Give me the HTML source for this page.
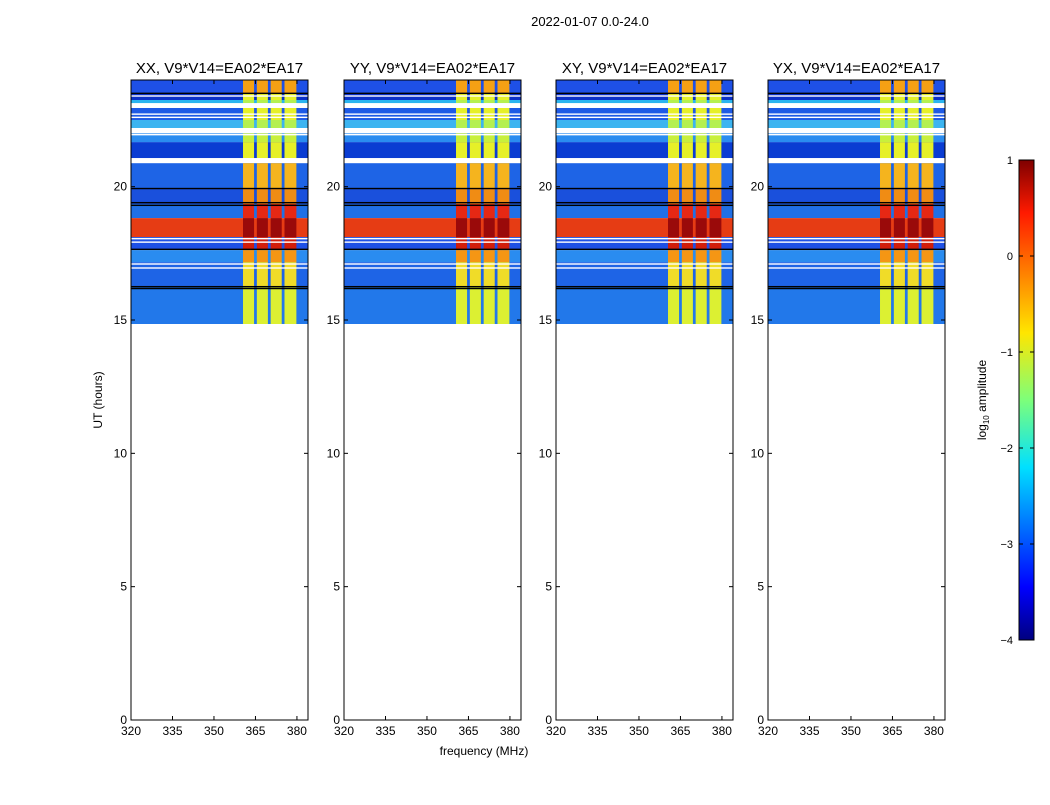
<!DOCTYPE html>
<html><head><meta charset="utf-8"><style>
body{margin:0;background:#fff;}
svg text{font-family:"Liberation Sans",sans-serif;}
</style></head><body>
<svg id="fig" width="1050" height="800" viewBox="0 0 1050 800" xmlns="http://www.w3.org/2000/svg">
<defs>
<linearGradient id="jet" x1="0" y1="1" x2="0" y2="0">
<stop offset="0" stop-color="#00007f"/><stop offset="0.11" stop-color="#0000ff"/>
<stop offset="0.36" stop-color="#00e0ff"/><stop offset="0.5" stop-color="#7dff7a"/>
<stop offset="0.64" stop-color="#ffe600"/><stop offset="0.89" stop-color="#ff1a00"/>
<stop offset="1" stop-color="#7f0000"/></linearGradient>
</defs>
<text x="590" y="26" font-size="13" text-anchor="middle">2022-01-07 0.0-24.0</text>
<g id="panels"></g>
<text x="484" y="755" font-size="12" text-anchor="middle">frequency (MHz)</text>
<text x="102" y="400" font-size="12" text-anchor="middle" transform="rotate(-90 102 400)">UT (hours)</text>
<g>
<rect x="1019" y="160" width="15" height="480" fill="url(#jet)" stroke="#000" stroke-width="1"/>
<g id="cbticks"></g>
<text x="986" y="400" font-size="12" text-anchor="middle" transform="rotate(-90 986 400)">log<tspan font-size="8" dy="3">10</tspan><tspan dy="-3"> amplitude</tspan></text>
</g>
</svg>
<script>
const panelTitles=["XX, V9*V14=EA02*EA17","YY, V9*V14=EA02*EA17","XY, V9*V14=EA02*EA17","YX, V9*V14=EA02*EA17"];
const panelX=[131,344,556,768];
const xTicks=[320,335,350,365,380];
const yTicks=[0,5,10,15,20];
const cbTicks=[1,0,-1,-2,-3,-4];
// time bands: [startHour, endHour, backgroundColor, rfiColor]
const bandStart=[23.51,23.25,23.13,22.95,22.5,22.2,22.0,21.67,21.07,20.88,19.95,19.35,18.82,18.11,17.62,17.17,16.24,14.85];
const bandEnd=[24.0,23.51,23.25,23.13,22.95,22.5,22.2,22.0,21.67,21.07,20.88,19.95,19.35,18.82,18.11,17.62,17.17,16.24];
const bandBg=["#1e50e6","#0a30c8","#2ab4f0","#ffffff","#1e5ae6","#3cb4f0","#ffffff","#2a8cf0","#0a3cd2","#ffffff","#1e64e6","#1a50dc","#2070e6","#e63c14","#1e50e6","#2a8cf0","#1e64e6","#2278ea"];
const bandRfi=["#f5a014","#e6f028","#b4f050","#ffffff","#e6f028","#b4f050","#ffffff","#c8f03c","#e6f028","#ffffff","#f5b41e","#f08c14","#e62814","#9a0a0a","#d21e0a","#f59614","#f0dc28","#dcf032"];
const blackLines=[23.5,19.93,19.4,19.3,17.65,16.25,16.18];
const whiteLines=[23.4,22.72,22.6,21.95,18.05,17.92,17.1,16.95];
const rfiLo=[360.5,365.5,370.5,375.5];
const rfiHi=[364.5,369.5,374.5,379.8];
const X0=320,X1=384,H0=0,H1=24,PW=177,PTOP=80,PBOT=720;
const NS="http://www.w3.org/2000/svg";
function el(t,a,p){const e=document.createElementNS(NS,t);for(const k in a)e.setAttribute(k,a[k]);p.appendChild(e);return e;}
function yS(h){return PBOT-(h-H0)/(H1-H0)*(PBOT-PTOP);}
const G=document.getElementById('panels');
panelX.forEach((px,pi)=>{
  const xS=f=>px+(f-X0)/(X1-X0)*PW;
  const g=el('g',{},G);
  
  
  for(let i=0;i<bandStart.length;i++){
    const y0=yS(bandEnd[i]),y1=yS(bandStart[i]);
    const r=el('rect',{x:px,y:y0,width:PW,height:y1-y0,fill:bandBg[i]},g);
    
    
    for(let j=0;j<rfiLo.length;j++){
      const c=el('rect',{x:xS(rfiLo[j]),y:y0,width:xS(rfiHi[j])-xS(rfiLo[j]),height:y1-y0,fill:bandRfi[i]},g);
      
      
    }
  }
  blackLines.forEach(h=>{const l=el('rect',{x:px,y:yS(h)-0.7,width:PW,height:1.4,fill:'#000'},g);
    
    });
  whiteLines.forEach(h=>{const l=el('rect',{x:px,y:yS(h)-0.7,width:PW,height:1.4,fill:'#fff'},g);
    
    });
  const fr=el('rect',{x:px,y:PTOP,width:PW,height:PBOT-PTOP,fill:'none',stroke:'#000','stroke-width':1},g);
  
  
  const t=el('text',{x:px+PW/2,y:73,'font-size':15,'text-anchor':'middle'},g);t.textContent=panelTitles[pi];
  
  
  xTicks.forEach(v=>{const x=xS(v);el('line',{x1:x,x2:x,y1:PBOT,y2:PBOT-4,stroke:'#000'},g);el('line',{x1:x,x2:x,y1:PTOP,y2:PTOP+4,stroke:'#000'},g);
    const tt=el('text',{x:x,y:PBOT+15,'font-size':12,'text-anchor':'middle'},g);tt.textContent=v;
    
    });
  yTicks.forEach(v=>{const y=yS(v);el('line',{x1:px,x2:px+4,y1:y,y2:y,stroke:'#000'},g);el('line',{x1:px+PW,x2:px+PW-4,y1:y,y2:y,stroke:'#000'},g);
    const tt=el('text',{x:px-4,y:y+4,'font-size':12,'text-anchor':'end'},g);tt.textContent=v;
    
    });
});
const CB=document.getElementById('cbticks');
cbTicks.forEach(v=>{const y=160+(1-v)/5*480;
  el('line',{x1:1019,x2:1023,y1:y,y2:y,stroke:'#000'},CB);el('line',{x1:1034,x2:1030,y1:y,y2:y,stroke:'#000'},CB);
  const t=el('text',{x:1013,y:y+4,'font-size':11,'text-anchor':'end'},CB);t.textContent=(v<0?'\u2212'+(-v):v);
  
  });
</script>
</body></html>
